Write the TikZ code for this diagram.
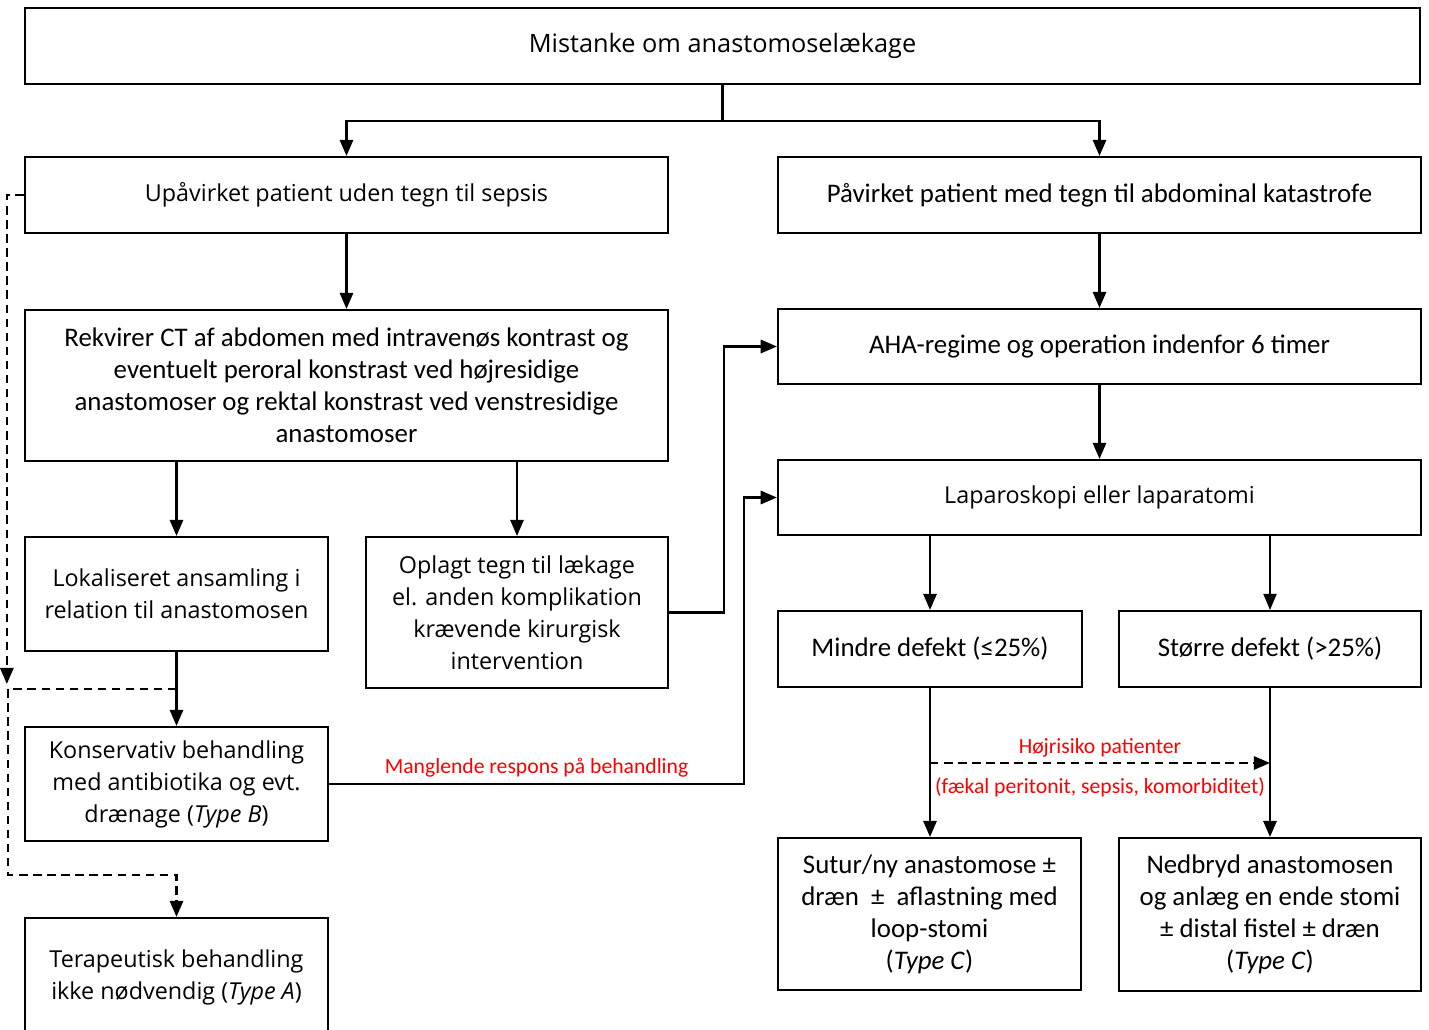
\documentclass[tikz,border=0pt]{standalone}
\usepackage{fontspec}
\setmainfont{Carlito}
\newfontfamily\segoe{Open Sans}
\usetikzlibrary{arrows.meta}

\begin{document}
\begin{tikzpicture}[x=0.025cm,y=-0.025cm,
        box/.style={draw,line width=1.5pt,align=center,inner sep=0pt},
        cal/.style={font=\fontsize{19.1}{22.8}\selectfont},
        seg/.style={font=\segoe\fontsize{16.6}{22.8}\selectfont},
        arr/.style={line width=1.5pt,-{Triangle[length=11.5pt,width=9.5pt]}},
        dasharr/.style={arr,dash pattern=on 6pt off 4pt},
        lbl/.style={text=red,font=\fontsize{15.4}{18}\selectfont}]
    \useasboundingbox (0,0) rectangle (1429,1030);
    % boxes
    \node[box,font=\segoe\fontsize{18}{22.8}\selectfont,minimum width=34.875cm,minimum height=1.9cm] at (722.5,46) (mist) {Mistanke om anastomoselækage};
    \node[box,seg,minimum width=16.075cm,minimum height=1.9cm] at (346.5,195) (upav) {Upåvirket patient uden tegn til sepsis};
    \node[box,cal,minimum width=16.075cm,minimum height=1.9cm] at (1099.5,195) (pav) {Påvirket patient med tegn til abdominal katastrofe};
    \node[box,cal,minimum width=16.075cm,minimum height=3.775cm] at (346.5,385.5) (rek) {Rekvirer CT af abdomen med intravenøs kontrast og\\eventuelt peroral konstrast ved højresidige\\anastomoser og rektal konstrast ved venstresidige\\anastomoser};
    \node[box,cal,minimum width=16.075cm,minimum height=1.875cm] at (1099.5,346.5) (aha) {AHA-regime og operation indenfor 6 timer};
    \node[box,seg,minimum width=16.075cm,minimum height=1.875cm] at (1099.5,497.5) (lap) {Laparoskopi eller laparatomi};
    \node[box,seg,minimum width=7.575cm,minimum height=2.85cm] at (176.5,594) (lok) {Lokaliseret ansamling i\\relation til anastomosen};
    \node[box,seg,minimum width=7.55cm,minimum height=3.775cm] at (517,612.5) (opl) {Oplagt tegn til lækage\\el. anden komplikation\\krævende kirurgisk\\intervention};
    \node[box,cal,minimum width=7.6cm,minimum height=1.9cm] at (930,649) (mindre) {Mindre defekt (≤25\%)};
    \node[box,cal,minimum width=7.55cm,minimum height=1.9cm] at (1270,649) (storre) {Større defekt (>25\%)};
    \node[box,seg,minimum width=7.575cm,minimum height=2.85cm] at (176.5,784) (kons) {Konservativ behandling\\med antibiotika og evt.\\drænage (\textit{Type B})};
    \node[box,cal,minimum width=7.575cm,minimum height=3.8cm] at (929.5,914) (sutur) {Sutur/ny anastomose ±\\dræn \ ± \ aflastning med\\loop-stomi\\(\textit{Type C})};
    \node[box,cal,minimum width=7.55cm,minimum height=3.825cm] at (1270,914.5) (nedb) {Nedbryd anastomosen\\og anlæg en ende stomi\\± distal fistel ± dræn\\(\textit{Type C})};
    \node[box,seg,minimum width=7.575cm,minimum height=2.95cm] at (176.5,977) (terap) {Terapeutisk behandling\\ikke nødvendig (\textit{Type A})};
    % connectors
    \draw[arr] (mist.south) -- ++(0,36) coordinate (split) -| (upav.north);
    \draw[arr] (split) -| (pav.north);
    \draw[arr] (upav) -- (rek);
    \draw[arr] (pav) -- (aha);
    \draw[arr] (aha) -- (lap);
    \draw[arr] (rek.south -| lok) -- (lok);
    \draw[arr] (rek.south -| opl) -- (opl);
    \draw[arr] (opl.east) -- ++(55,0) |- (aha.west);
    \draw[arr] (lok) -- (kons);
    \draw[arr] (kons.east) -- node[lbl,above=1pt] {Manglende respons på behandling} ++(415,0) |- (lap.west);
    \draw[arr] (lap.south -| mindre) -- (mindre);
    \draw[arr,line width=0.8pt] (lap.south -| storre) -- (storre);
    \draw[arr] (mindre.south) -- (mindre.south |- sutur.north);
    \draw[arr] (storre) -- (nedb);
    % high risk
    \coordinate (hr) at (930,763);
    \draw[dasharr] (hr) -- node[lbl,above] {Højrisiko patienter} node[lbl,below=6pt] {(fækal peritonit, sepsis, komorbiditet)} (hr -| storre);
    % dashed on the left
    \draw[dasharr] (upav.west) -| ++(-17,489);
    \coordinate (bj) at (176.5,689);
    \draw[dasharr] (bj) -| ++(-168.5,186) -| (terap.north);
\end{tikzpicture}
\end{document}
